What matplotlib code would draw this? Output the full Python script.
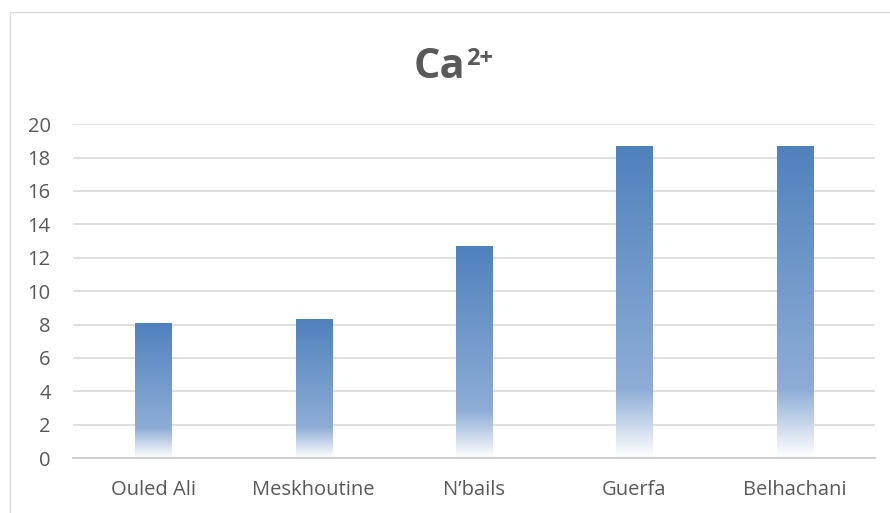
import matplotlib.pyplot as plt
import numpy as np
from matplotlib.colors import LinearSegmentedColormap
from matplotlib.patches import Rectangle

plt.rcParams["font.family"] = ["Open Sans", "DejaVu Sans"]

sites = ["Ouled Ali", "Meskhoutine", "N\u2019bails", "Guerfa", "Belhachani"]
ca_values = [8.1, 8.33, 12.7, 18.7, 18.7]
y_ticks = [0, 2, 4, 6, 8, 10, 12, 14, 16, 18, 20]

text_grey = "#595959"
grid_grey = "#d9d9d9"

# white at the base, light blue a fifth of the way up, solid blue at the top
fade = LinearSegmentedColormap.from_list(
    "fade", [(0.0, "#ffffff"), (0.22, "#8eadd6"), (1.0, "#4f81bd")])

fig = plt.figure(figsize=(8.9, 5.13), dpi=100)
ax = fig.add_axes([0.082, 0.107, 0.901, 0.651])

x = np.arange(len(sites))
bars = ax.bar(x, ca_values, width=0.225, color="none", edgecolor="none", zorder=2)

grad = np.linspace(0, 1, 256).reshape(-1, 1)
for bar in bars:
    x0, y0 = bar.get_x(), bar.get_y()
    w, h = bar.get_width(), bar.get_height()
    im = ax.imshow(grad, cmap=fade, origin="lower", aspect="auto",
                   extent=[x0, x0 + w, y0, y0 + h], zorder=2)
    im.set_clip_path(bar)

ax.set_xlim(-0.5, len(sites) - 0.5)
ax.set_ylim(0, 20)
ax.set_yticks(y_ticks)
ax.set_xticks(x)
ax.set_xticklabels(sites)
ax.tick_params(length=0, labelsize=14.5, colors=text_grey)
ax.tick_params(axis="x", pad=16)
ax.tick_params(axis="y", pad=16)

ax.grid(axis="y", color=grid_grey, linewidth=1.2, zorder=1)
ax.set_axisbelow(True)
for side in ["top", "right", "left"]:
    ax.spines[side].set_visible(False)
ax.spines["bottom"].set_color("#cccccc")
ax.spines["bottom"].set_linewidth(1.3)

# title with a raised charge
fig.text(414 / 890, 1 - 78 / 513, "Ca", fontsize=30, fontweight="bold",
         color=text_grey, ha="left", va="baseline")
fig.text(466 / 890, 1 - 65 / 513, "2+", fontsize=17, fontweight="bold",
         color=text_grey, ha="left", va="baseline")

# outer chart frame
fig.patches.append(Rectangle((10 / 890, -0.05), 1.0, 1.05 - 12 / 513,
                             transform=fig.transFigure, fill=False,
                             edgecolor="#d9d9d9", linewidth=1.0))

fig.savefig("out.png", dpi=100)
